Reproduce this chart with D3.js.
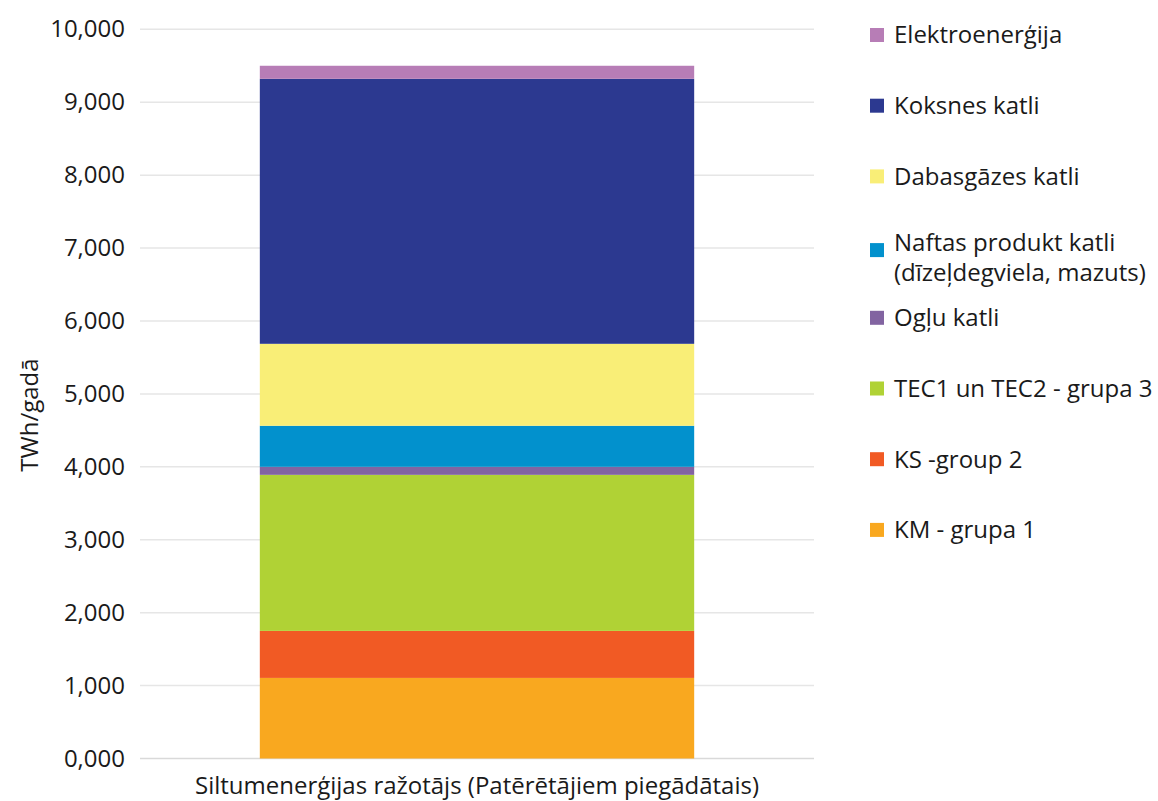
<!DOCTYPE html>
<html>
<head>
<meta charset="utf-8">
<script src="https://cdn.jsdelivr.net/npm/d3@7"></script>
<style>
  body { margin: 0; background: #fff; }
  svg { font-family: 'Open Sans', sans-serif; }
</style>
</head>
<body>
<div id="chart"></div>
<script>
const width  = 1158;
const height = 801;
const pad = {l: 140, r: 344, t: 29.3, b: 42.5};
const fs = 24;

// data, bottom to top of the stack
const category = 'Siltumenerģijas ražotājs (Patērētājiem piegādātais)';
const series = ['KM - grupa 1', 'KS -group 2', 'TEC1 un TEC2 - grupa 3', 'Ogļu katli',
                'Naftas produkt katli|(dīzeļdegviela, mazuts)', 'Dabasgāzes katli',
                'Koksnes katli', 'Elektroenerģija'];
const values = [1105, 645, 2140, 110, 563, 1124, 3634, 179];
const colors = ['#f9a81f', '#f15a24', '#b0d235', '#8264a1', '#0291cd', '#f9ee77', '#2c3990', '#b77db6'];
const yTicks = [0, 1000, 2000, 3000, 4000, 5000, 6000, 7000, 8000, 9000, 10000];
const yTitle = 'TWh/gadā';

const svg = d3.select('#chart')
  .append('svg')
  .attr('width', width)
  .attr('height', height);

let x = d3.scaleBand()
  .domain([category])
  .range([pad.l, width - pad.r])
  .paddingInner(0.2162).paddingOuter(0.2162);

let y = d3.scaleLinear()
  .domain([0, 10000])
  .range([height - pad.b, pad.t]);

// grid
svg.append('g')
  .selectAll('line')
  .data(yTicks)
  .join('line')
  .attr('x1', pad.l).attr('x2', width - pad.r)
  .attr('y1', d => y(d)).attr('y2', d => y(d))
  .attr('stroke', d => d === 0 ? '#d9d9d9' : '#e6e6e6')
  .attr('stroke-width', 1.5);

// y axis labels
let axisY = d3.axisLeft(y)
  .tickValues(yTicks)
  .tickSize(0)
  .tickPadding(15)
  .tickFormat(d => d3.format(',')(d / 1000) + ',000');
svg.append('g')
  .attr('transform', `translate(${pad.l}, 0)`)
  .call(axisY)
  .call(g => g.select('.domain').remove())
  .call(g => g.selectAll('text')
    .attr('font-size', fs)
    .attr('font-family', "'Open Sans', sans-serif")
    .attr('fill', '#1a1a1a'));

// stacked bar
let acc = 0;
const stack = values.map((v, i) => {
  const s = {y0: acc, y1: acc + v, c: colors[i]};
  acc += v;
  return s;
});
svg.append('g')
  .selectAll('rect')
  .data(stack)
  .join('rect')
  .attr('x', x(category))
  .attr('width', x.bandwidth())
  .attr('y', d => y(d.y1))
  .attr('height', d => y(d.y0) - y(d.y1))
  .attr('fill', d => d.c);

// x axis label
svg.append('text')
  .attr('x', x(category) + x.bandwidth() / 2)
  .attr('y', 794)
  .attr('text-anchor', 'middle')
  .attr('font-size', fs)
  .attr('fill', '#1a1a1a')
  .text(category);

// y title
svg.append('text')
  .attr('transform', `translate(38, 415) rotate(-90)`)
  .attr('text-anchor', 'middle')
  .attr('font-size', fs)
  .attr('fill', '#1a1a1a')
  .text(yTitle);

// legend, top to bottom
const legend = svg.append('g').attr('transform', 'translate(870, 0)');
const order = series.map((s, i) => i).reverse();
const rowY = (k) => 35 + k * 70.7;
order.forEach((i, k) => {
  const lines = series[i].split('|');
  const cy = rowY(k);
  const row = legend.append('g');
  row.append('rect')
    .attr('x', 0).attr('y', (lines.length > 1 ? cy + 3 : cy) - 7)
    .attr('width', 14).attr('height', 14)
    .attr('fill', colors[i]);
  lines.forEach((t, j) => {
    row.append('text')
      .attr('x', 24)
      .attr('y', (lines.length > 1 ? cy - 5 : cy) + j * 30)
      .attr('dy', '0.35em')
      .attr('font-size', fs)
      .attr('fill', '#1a1a1a')
      .text(t);
  });
});
</script>
</body>
</html>
